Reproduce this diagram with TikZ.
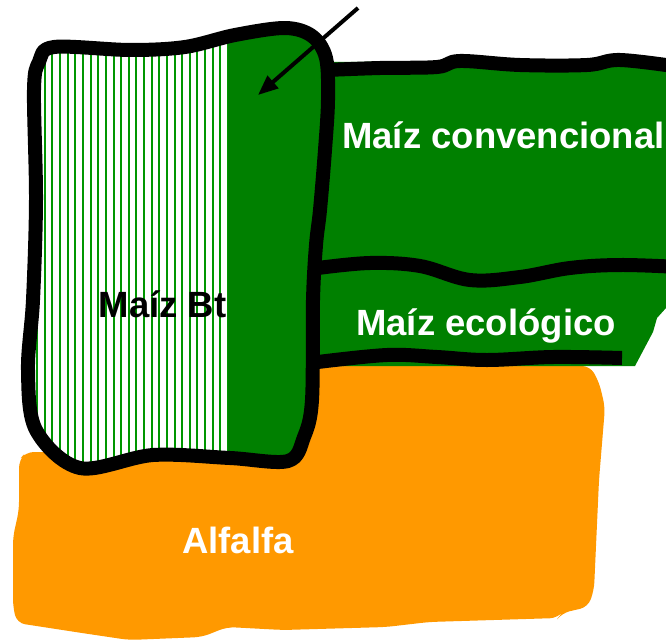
\documentclass[tikz,border=0pt]{standalone}
\usepackage{fontspec}
\setmainfont{Liberation Sans}
\usetikzlibrary{arrows.meta}
\definecolor{fieldgreen}{RGB}{0,128,0}
\definecolor{hatchgreen}{RGB}{0,150,0}
\definecolor{alfalfa}{RGB}{255,153,0}
\tikzset{
  border/.style={line width=14pt, line join=round, line cap=round},
  label/.style={font=\bfseries\fontsize{36.5}{40}\selectfont, anchor=base, inner sep=0pt},
  hatchline/.style={hatchgreen, line width=2pt}
}
\begin{document}
\begin{tikzpicture}[x=1pt,y=-1pt]
\useasboundingbox (0,0) rectangle (666,642);
\fill[white] (0,0) rectangle (666,642);
% Alfalfa field
\fill[alfalfa, rounded corners=8pt] (26,452) -- (300,452) -- (300,366) -- (590,366) -- (599,382) -- (605,407) -- (599,480) -- (594,590) -- (588,607) -- (562,613) -- (558,618) -- (429,622) -- (386,627) -- (283,630) -- (227,627) -- (202,637) -- (129,640) -- (82,633) -- (43,627) -- (17,623) -- (13,607) -- (13,537) -- (19,510) -- (19,460) -- cycle;
% Maize bands
\fill[fieldgreen] (322,62) -- (680,60) -- (680,300) -- (666,308) -- (657,318) -- (653,332) -- (635,366) -- (318,366) -- cycle;
\draw[border] plot[smooth, tension=0.6] coordinates {(326,70) (380,68) (437,67) (460,61) (520,65) (587,65) (620,60) (680,67)};
\draw[border] plot[smooth, tension=0.6] coordinates {(318,268) (370,263) (420,266) (470,280) (520,277) (570,268) (620,265) (680,267)};
\draw[border, line cap=butt] plot[smooth, tension=0.6] coordinates {(318,362) (387,355) (437,357) (487,360) (553,357) (622,358)};
% Bt maize field
\def\btpath{plot[smooth cycle, tension=0.55] coordinates {(34,90) (39,62) (54,47) (130,50) (185,47) (235,35) (285,28) (312,36) (326,58) (328,100) (325,150) (320,210) (316,245) (313,300) (312,400) (304,437) (288,461) (230,458) (153,455) (80,468) (36,430) (28,370) (33,300) (36,200)}}
\fill[white] \btpath;
\begin{scope}
  \clip \btpath;
  \foreach \i in {0,...,26} {
    \draw[hatchline] ({29.6+7.63*\i},20) -- ({29.6+7.63*\i},480);
  }
  \fill[fieldgreen] (228,20) rectangle (340,480);
\end{scope}
\draw[border] \btpath;
% Labels
\node[label, white] (conv) at (503.5,148) {Maíz convencional};
\node[label, white] (eco) at (486,335) {Maíz ecológico};
\node[label, black] (bt) at (162.5,317) {Maíz Bt};
\node[label, white] (alf) at (238,553) {Alfalfa};
% Arrow
\coordinate (arrowstart) at (358,8);
\coordinate (arrowtip) at (258,95);
\draw[line width=4pt, -{Triangle[length=20pt,width=16pt]}] (arrowstart) -- (arrowtip);
\end{tikzpicture}
\end{document}
